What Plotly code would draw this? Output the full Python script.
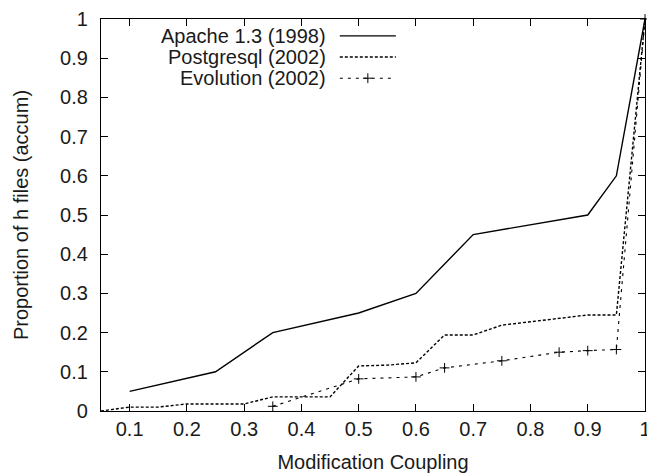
import plotly.graph_objects as go

# ---- data ----
apache_x = [0.1, 0.25, 0.35, 0.5, 0.6, 0.7, 0.9, 0.95, 1.0]
apache_y = [0.05, 0.1, 0.2, 0.25, 0.3, 0.45, 0.5, 0.6, 1.0]

postgres_x = [0.05, 0.1, 0.15, 0.2, 0.3, 0.35, 0.45, 0.5, 0.55, 0.6, 0.65, 0.7, 0.75, 0.8, 0.85, 0.9, 0.95, 1.0]
postgres_y = [0.0, 0.01, 0.01, 0.018, 0.018, 0.036, 0.036, 0.115, 0.117, 0.123, 0.194, 0.194, 0.219, 0.228, 0.236, 0.245, 0.245, 1.0]

evolution_x = [0.35, 0.5, 0.6, 0.65, 0.75, 0.85, 0.9, 0.95, 1.0]
evolution_y = [0.012, 0.082, 0.087, 0.11, 0.128, 0.15, 0.154, 0.157, 1.0]

series_names = ["Apache 1.3 (1998)", "Postgresql (2002)", "Evolution (2002)"]

x_ticks = [0.1, 0.2, 0.3, 0.4, 0.5, 0.6, 0.7, 0.8, 0.9, 1.0]
x_tick_labels = ["0.1", "0.2", "0.3", "0.4", "0.5", "0.6", "0.7", "0.8", "0.9", "1"]
y_ticks = [0, 0.1, 0.2, 0.3, 0.4, 0.5, 0.6, 0.7, 0.8, 0.9, 1.0]
y_tick_labels = ["0", "0.1", "0.2", "0.3", "0.4", "0.5", "0.6", "0.7", "0.8", "0.9", "1"]

FONT = "Liberation Sans, Arial, Helvetica, sans-serif"
INK = "#1a1a1a"
LW = 1.4

styles = [
    dict(color="black", width=LW, dash="solid"),
    dict(color="black", width=LW, dash="3px,2px"),
    dict(color="black", width=1.1, dash="3px,5px"),
]
evo_marker = dict(symbol="cross-thin", size=7, line=dict(color="black", width=1))

fig = go.Figure()
fig.add_trace(go.Scatter(x=apache_x, y=apache_y, mode="lines", line=styles[0],
                         name=series_names[0], showlegend=False))
fig.add_trace(go.Scatter(x=postgres_x, y=postgres_y, mode="lines", line=styles[1],
                         name=series_names[1], showlegend=False))
fig.add_trace(go.Scatter(x=evolution_x, y=evolution_y, mode="lines+markers", line=styles[2],
                         marker=evo_marker, name=series_names[2], showlegend=False,
                         cliponaxis=False))

# gnuplot-style key: right-aligned text with line samples to the right
key_x0, key_x1, key_text_x = 0.439, 0.542, 0.418
key_rows = [0.957, 0.903, 0.849]
for i, (name, yy) in enumerate(zip(series_names, key_rows)):
    fig.add_annotation(x=key_text_x, y=yy, xref="paper", yref="paper", text=name,
                       showarrow=False, xanchor="right", yanchor="middle",
                       font=dict(family=FONT, size=20, color=INK))
    fig.add_trace(go.Scatter(x=[key_x0, key_x1], y=[yy, yy], mode="lines", line=styles[i],
                             xaxis="x2", yaxis="y2", showlegend=False, hoverinfo="skip"))
fig.add_trace(go.Scatter(x=[(key_x0 + key_x1) / 2], y=[key_rows[2]], mode="markers",
                         marker=evo_marker, xaxis="x2", yaxis="y2", showlegend=False,
                         hoverinfo="skip"))

axis_common = dict(
    showline=True, linecolor="black", linewidth=1.3, mirror="allticks",
    ticks="inside", ticklen=7, tickwidth=1.1, tickcolor="black",
    showgrid=False, zeroline=False, automargin=False, ticklabeloverflow="allow",
    tickfont=dict(family=FONT, size=20, color=INK),
)

fig.update_layout(
    width=647, height=473,
    margin=dict(l=101, r=2, t=19, b=62),
    paper_bgcolor="white", plot_bgcolor="white",
    xaxis=dict(range=[0.05, 1.0], tickvals=x_ticks, ticktext=x_tick_labels,
               ticklabelstandoff=0,
               title=dict(text="Modification Coupling", standoff=16,
                          font=dict(family=FONT, size=20, color=INK)),
               **axis_common),
    yaxis=dict(range=[0, 1.0], tickvals=y_ticks, ticktext=y_tick_labels,
               ticklabelstandoff=8,
               title=dict(text="Proportion of h files (accum)", standoff=26,
                          font=dict(family=FONT, size=20, color=INK)),
               **axis_common),
    xaxis2=dict(range=[0, 1], overlaying="x", visible=False),
    yaxis2=dict(range=[0, 1], overlaying="y", visible=False),
    showlegend=False,
)

fig.write_html("out.html", config={"displayModeBar": False},
               post_script="document.body.style.margin='0px';document.body.style.overflow='hidden';")
